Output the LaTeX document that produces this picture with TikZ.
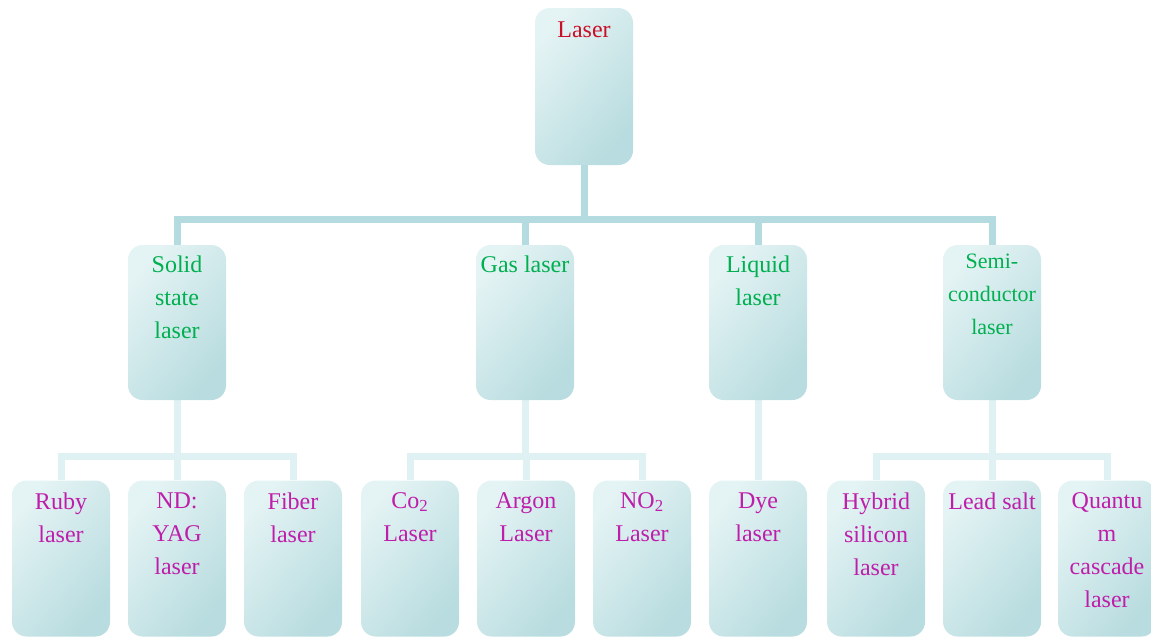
\documentclass[tikz,border=0pt]{standalone}
\usepackage{fontspec}
\setmainfont{Liberation Serif}
\usetikzlibrary{backgrounds}

\definecolor{boxlight}{HTML}{E4F3F4}
\definecolor{boxdark}{HTML}{B8DCDF}
\definecolor{trunkline}{HTML}{B3DBE0}
\definecolor{branchline}{HTML}{E0F1F3}
\definecolor{rootred}{RGB}{200,16,40}
\definecolor{typegreen}{HTML}{00B050}
\definecolor{kindmag}{RGB}{190,30,170}

\begin{document}
\begin{tikzpicture}[x=0.75pt,y=-0.75pt,
  box/.style={rounded corners=11pt, minimum width=73.5pt, inner sep=0pt,
    top color=boxlight, bottom color=boxdark, shading angle=50},
  rootbox/.style={box, minimum height=117.75pt},
  midbox/.style={box, minimum height=116.25pt},
  leafbox/.style={box, minimum height=117pt},
  txt/.style={anchor=north, inner sep=0pt, align=center,
    font=\fontsize{18}{24.75}\selectfont},
  roottxt/.style={txt, text=rootred, yshift=-10pt},
  midtxt/.style={txt, text=typegreen, yshift=-8.5pt},
  leaftxt/.style={txt, text=kindmag, yshift=-9pt},
  trunk/.style={draw=trunkline, line width=5.25pt},
  branch/.style={draw=branchline, line width=5.25pt}]

\useasboundingbox (0,0) rectangle (1151,637);

% root
\node[rootbox] (root) at (584,86.5) {};
\node[roottxt] (rootT) at (root.north) {Laser};

% laser types
\node[midbox] (solid) at (177,322.5) {};
\node[midbox] (gas)   at (525,322.5) {};
\node[midbox] (liq)   at (758,322.5) {};
\node[midbox] (semi)  at (992,322.5) {};
\node[midtxt] (solidT) at (solid.north) {Solid\\state\\laser};
\node[midtxt] (gasT)   at (gas.north) {Gas laser};
\node[midtxt] (liqT)   at (liq.north) {Liquid\\laser};
\node[midtxt, yshift=1.5pt, font=\fontsize{16.5}{24.75}\selectfont] (semiT) at (semi.north) {Semi-\\conductor\\laser};

% individual lasers
\node[leafbox] (ruby)   at (61,558.5) {};
\node[leafbox] (ndyag)  at (177,558.5) {};
\node[leafbox] (fiber)  at (293,558.5) {};
\node[leafbox] (co2)    at (410,558.5) {};
\node[leafbox] (argon)  at (526,558.5) {};
\node[leafbox] (no2)    at (642,558.5) {};
\node[leafbox] (dye)    at (758,558.5) {};
\node[leafbox] (hybrid) at (876,558.5) {};
\node[leafbox] (lead)   at (992,558.5) {};
\node[leafbox] (qcl)    at (1107,558.5) {};
\node[leaftxt] (rubyT)   at (ruby.north) {Ruby\\laser};
\node[leaftxt] (ndyagT)  at (ndyag.north) {ND:\\YAG\\laser};
\node[leaftxt] (fiberT)  at (fiber.north) {Fiber\\laser};
\node[leaftxt] (co2T)    at (co2.north) {Co\textsubscript{2}\\Laser};
\node[leaftxt] (argonT)  at (argon.north) {Argon\\Laser};
\node[leaftxt] (no2T)    at (no2.north) {NO\textsubscript{2}\\Laser};
\node[leaftxt] (dyeT)    at (dye.north) {Dye\\laser};
\node[leaftxt] (hybridT) at (hybrid.north) {Hybrid\\silicon\\laser};
\node[leaftxt] (leadT)   at (lead.north) {Lead salt};
\node[leaftxt] (qclT)    at (qcl.north) {Quantu\\m\\cascade\\laser};

% connectors behind the boxes
\begin{scope}[on background layer]
  \foreach \c in {solid,gas,liq,semi}
    \path[trunk] (root.south) -- (root.south |- 0,219) -| (\c.north);
  \foreach \c in {ruby,ndyag,fiber}
    \path[branch] (solid.south) -- (solid.south |- 0,456) -| (\c.north);
  \foreach \c in {co2,argon,no2}
    \path[branch] (gas.south) -- (gas.south |- 0,456) -| (\c.north);
  \path[branch] (liq.south) -- (dye.north);
  \foreach \c in {hybrid,lead,qcl}
    \path[branch] (semi.south) -- (semi.south |- 0,456) -| (\c.north);
\end{scope}
\end{tikzpicture}
\end{document}
